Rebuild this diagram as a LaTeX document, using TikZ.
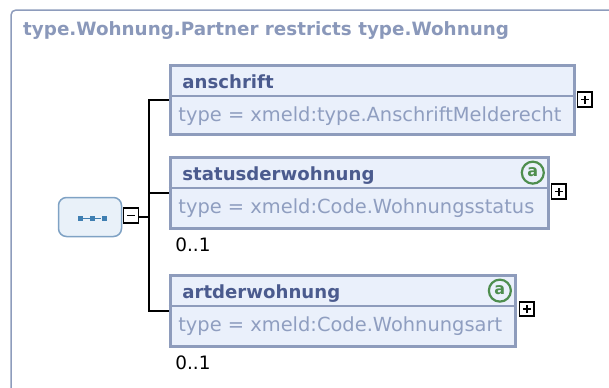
\documentclass[tikz,border=0pt]{standalone}
\usepackage{fontspec}
\setmainfont{DejaVu Sans}
\usepackage{xcolor}
\usetikzlibrary{positioning}
\definecolor{frameColor}{HTML}{8E9CBC}
\definecolor{titleTextColor}{HTML}{8A98BA}
\definecolor{boxBgColor}{HTML}{EAF0FB}
\definecolor{boxLineColor}{HTML}{8E9CBC}
\definecolor{nameTextColor}{HTML}{4B5B8E}
\definecolor{typeTextColor}{HTML}{8F9EC0}
\definecolor{attrColor}{HTML}{4E8E4E}
\definecolor{seqBgColor}{HTML}{E9F1F9}
\definecolor{seqLineColor}{HTML}{7FA2C4}
\definecolor{seqDotColor}{HTML}{3F7FB2}
\definecolor{linkColor}{HTML}{000000}
\def\textTitle{type.Wohnung.Partner restricts type.Wohnung}
\def\nameA{anschrift}
\def\nameB{statusderwohnung}
\def\nameC{artderwohnung}
\def\typeA{type = xmeld:type.AnschriftMelderecht}
\def\typeB{type = xmeld:Code.Wohnungsstatus}
\def\typeC{type = xmeld:Code.Wohnungsart}

\tikzset{
  elemBox/.style={draw=boxLineColor, fill=boxBgColor, line width=3bp, inner sep=0pt},
  nameText/.style={inner sep=0pt, anchor=base west, text=nameTextColor,
    font=\fontsize{18.2}{21}\selectfont\bfseries},
  typeText/.style={inner sep=0pt, anchor=base west, text=typeTextColor,
    font=\fontsize{19.5}{22}\selectfont},
  cardText/.style={inner sep=0pt, anchor=base west, text=black,
    font=\fontsize{18.5}{21}\selectfont},
  attrMark/.style={circle, draw=attrColor, line width=2.2bp, inner sep=0pt,
    minimum size=22bp, text=attrColor, font=\fontsize{16}{16}\selectfont\bfseries},
  expandBox/.style={draw=black, fill=white, line width=1.6bp, inner sep=0pt,
    minimum size=14.5bp, path picture={
      \draw[line width=1.8bp] ([xshift=-4bp]path picture bounding box.center)
        -- ([xshift=4bp]path picture bounding box.center);
      \draw[line width=1.8bp] ([yshift=-4bp]path picture bounding box.center)
        -- ([yshift=4bp]path picture bounding box.center);}},
  collapseBox/.style={draw=black, fill=white, line width=1.6bp, inner sep=0pt,
    minimum size=15bp, path picture={
      \draw[line width=1.8bp] ([xshift=-4bp]path picture bounding box.center)
        -- ([xshift=4bp]path picture bounding box.center);}},
  seqBox/.style={draw=seqLineColor, fill=seqBgColor, line width=1.5bp,
    rounded corners=8bp, minimum width=63bp, minimum height=39bp},
  seqDot/.style={fill=seqDotColor, inner sep=0pt, minimum size=5bp},
  link/.style={draw=linkColor, line width=1.6bp}
}

\begin{document}
\begin{tikzpicture}[x=1bp,y=-1bp]
\clip (0, 0) rectangle (609, 387);

% frame
\begin{scope}
\draw[frameColor, line width=1.5bp, rounded corners=5bp]
(11, 420) -- (11, 10) -- (640, 10);
\node[inner sep=0pt, anchor=base west, text=titleTextColor,
font=\fontsize{18.4}{21}\selectfont\bfseries] (title) at (23, 35) {\textTitle};
\end{scope}

% element layer
\begin{scope}
\node[elemBox, minimum width=406, minimum height=69] (anschrift) at (372.5, 100) {};
\node[elemBox, minimum width=380, minimum height=71] (statusderwohnung) at (359.5, 193) {};
\node[elemBox, minimum width=347, minimum height=71] (artderwohnung) at (343, 311) {};
\foreach \elem in {anschrift, statusderwohnung, artderwohnung} {
\draw[boxLineColor, line width=1.5bp] ([yshift=-32bp]\elem.north west)
-- ([yshift=-32bp]\elem.north east);
}
\end{scope}

% text layer
\begin{scope}
\node[nameText] (anschriftName) at ([xshift=13.5bp, yshift=-24bp]anschrift.north west) {\nameA};
\node[typeText] (anschriftType) at ([xshift=9.5bp, yshift=-57bp]anschrift.north west) {\typeA};
\node[nameText] (statusderwohnungName) at ([xshift=13.5bp, yshift=-24.5bp]statusderwohnung.north west) {\nameB};
\node[typeText] (statusderwohnungType) at ([xshift=9.5bp, yshift=-57.5bp]statusderwohnung.north west) {\typeB};
\node[nameText] (artderwohnungName) at ([xshift=13.5bp, yshift=-24.5bp]artderwohnung.north west) {\nameC};
\node[typeText] (artderwohnungType) at ([xshift=9.5bp, yshift=-57.5bp]artderwohnung.north west) {\typeC};
\node[attrMark] (statusderwohnungAttr) at ([xshift=-17.5bp, yshift=-16.5bp]statusderwohnung.north east) {a};
\node[attrMark] (artderwohnungAttr) at ([xshift=-17.5bp, yshift=-16.5bp]artderwohnung.north east) {a};
\node[cardText] (statusderwohnungCard) at ([xshift=6.5bp, yshift=-21.5bp]statusderwohnung.south west) {0..1};
\node[cardText] (artderwohnungCard) at ([xshift=6.5bp, yshift=-21.5bp]artderwohnung.south west) {0..1};
\end{scope}

% expand buttons
\begin{scope}
\node[expandBox] (anschriftPlus) at ([xshift=8.5bp, yshift=0.5bp]anschrift.east) {};
\node[expandBox] (statusderwohnungPlus) at ([xshift=8.5bp, yshift=1.5bp]statusderwohnung.east) {};
\node[expandBox] (artderwohnungPlus) at ([xshift=9.5bp, yshift=2bp]artderwohnung.east) {};
\end{scope}

% sequence
\begin{scope}
\node[seqBox] (seq) at (90, 217) {};
\foreach \dx [count=\i] in {-9.5, 2.5, 14} {
\node[seqDot] (seqDot\i) at ([xshift=\dx bp, yshift=-1bp]seq.center) {};
}
\draw[seqDotColor, line width=0.8bp] (seqDot1) -- (seqDot3);
\node[collapseBox] (seqMinus) at (131, 215.5) {};
\coordinate (spine) at (149, 217);
\end{scope}

% link layer
\begin{scope}
\draw[link] (seqMinus.east |- spine) -- (spine);
\draw[link] (anschrift.west) -- (anschrift.west -| spine)
-- (artderwohnung.west -| spine) -- (artderwohnung.west);
\draw[link] (statusderwohnung.west) -- (statusderwohnung.west -| spine);
\end{scope}

\end{tikzpicture}
\end{document}
